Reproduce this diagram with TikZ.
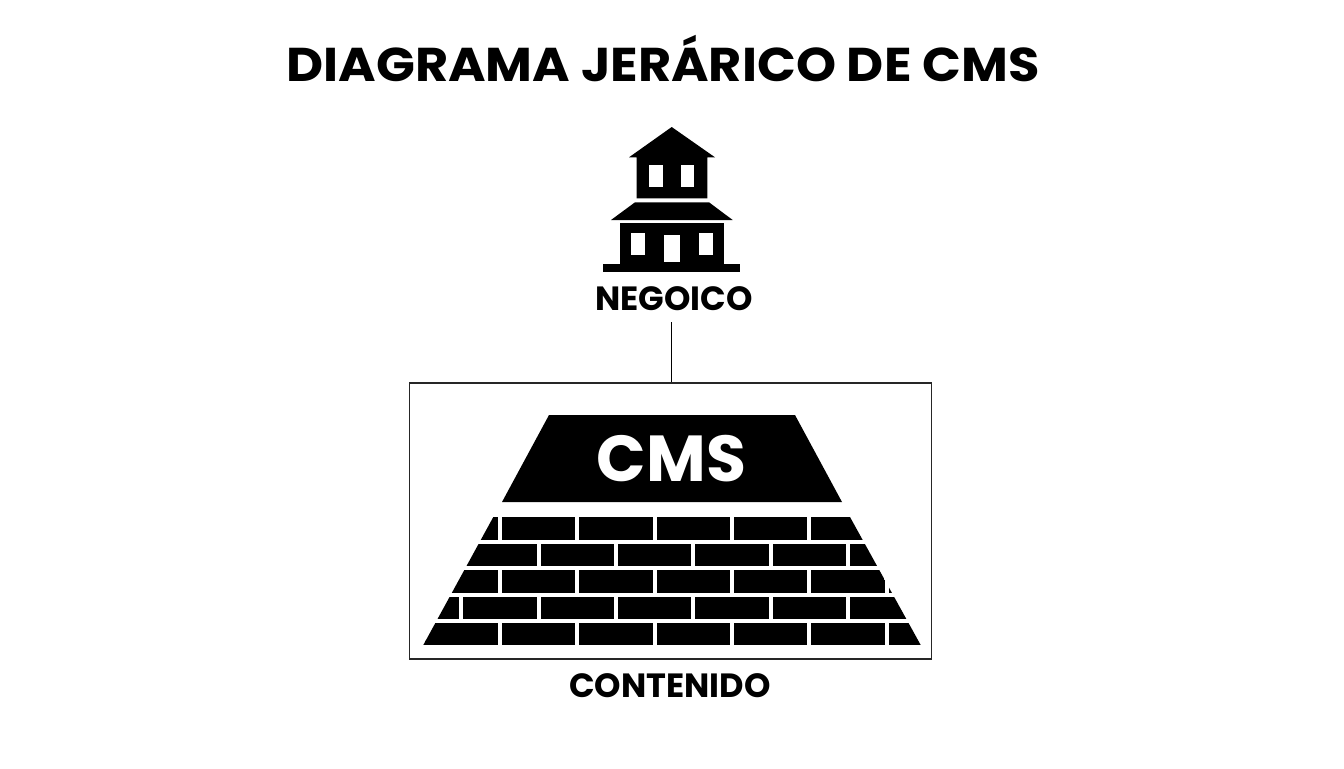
\documentclass[tikz,border=0pt]{standalone}
\usepackage{fontspec}
\setmainfont{Poppins}
\newfontfamily\anchafont[FakeStretch=1.076]{Poppins}
\begin{document}
\begin{tikzpicture}[x=0.5pt,y=-0.5pt,
    titulo/.style={font=\anchafont\bfseries\fontsize{23.7}{28}\selectfont},
    etiqueta/.style={font=\bfseries\fontsize{16.8}{20}\selectfont},
    hueco/.style={fill=white}]
          \useasboundingbox (0,0) rectangle (1344,768);
          \node[titulo] (title) at (663,58.5) {DIAGRAMA JERÁRICO DE CMS};

          % Edificio
          \fill (671.7,127) -- (715,157.3) -- (707.3,157.3) -- (707.3,198.3) -- (636.7,198.3) -- (636.7,157.3) -- (629,157.3) -- cycle;
          \fill (635,202.3) -- (709,202.3) -- (732.7,220) -- (611,220) -- cycle;
          \fill (620,223.3) rectangle (724,264);
          \fill (603.3,264) rectangle (740,272);
          \foreach \x in {649.3, 680.7}
              \fill[hueco] (\x,165.3) rectangle +(13.7,22);
          \foreach \x in {631, 699.3}
              \fill[hueco] (\x,232.7) rectangle +(14,22.6);
          \fill[hueco] (663.7,235.3) rectangle (679.7,262.3);
          \node[etiqueta] (negocio) at (674,299) {NEGOICO};

          % Recuadro y conector
          \node[draw=black!85, line width=0.6pt, minimum width=261pt, minimum height=138pt, inner sep=0pt] (contentbox) at (670.25,521) {};
          \coordinate (linetop) at (671,322);
          \draw[line width=0.5pt] (linetop) -- (linetop |- contentbox.north);

          % CMS
          \fill (549,415) -- (795,415) -- (842,502) -- (502,502) -- cycle;
          \node[text=white, font=\bfseries\fontsize{32.5}{36}\selectfont] (cms) at (671.5,459) {CMS};

          % Ladrillos
          \begin{scope}
              \clip (493.3,517) -- (850,517) -- (920.7,645) -- (423.3,645) -- cycle;
              \foreach \ytop/\ybot/\xstart in {517/539.5/270.08, 543.5/566/308.68, 570/592.5/270.08, 596.5/618.5/308.68, 622.5/645/270.08}
                  \foreach \i in {0,...,8}
                      \fill ({\xstart+77.32*\i},\ytop) rectangle ({\xstart+77.32*\i+73.3},\ybot);
              \fill (420,622.5) rectangle (426,645);
          \end{scope}
          \node[etiqueta] (contenido) at (670,685.5) {CONTENIDO};
      \end{tikzpicture}
\end{document}
